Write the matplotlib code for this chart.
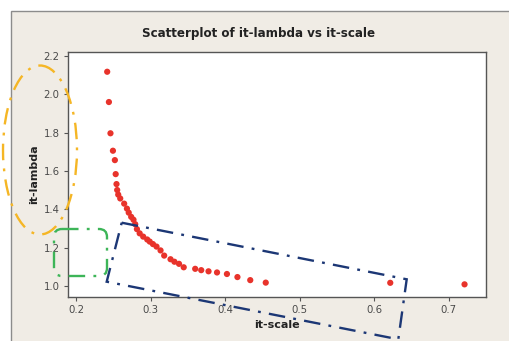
import matplotlib
matplotlib.use("Agg")
import matplotlib.pyplot as plt
from matplotlib.patches import Ellipse, FancyBboxPatch, Polygon, Rectangle
from matplotlib.transforms import Affine2D, IdentityTransform

# it-scale / it-lambda pairs
it_scale = [
    0.2416, 0.2439, 0.2460, 0.2493, 0.2519, 0.2530, 0.2541, 0.2550, 0.2564, 0.2591,
    0.2644, 0.2681, 0.2705, 0.2738, 0.2769, 0.2792, 0.2815, 0.2852, 0.2899, 0.2953,
    0.2987, 0.3030, 0.3078, 0.3132, 0.3181, 0.3266, 0.3318, 0.3380, 0.3443, 0.3597,
    0.3678, 0.3776, 0.3890, 0.4023, 0.4164, 0.4336, 0.4544, 0.6215, 0.7212,
]
it_lambda = [
    2.118, 1.960, 1.797, 1.706, 1.657, 1.584, 1.532, 1.501, 1.477, 1.457,
    1.430, 1.404, 1.383, 1.361, 1.346, 1.323, 1.297, 1.275, 1.258, 1.243,
    1.232, 1.219, 1.206, 1.186, 1.159, 1.140, 1.127, 1.116, 1.098, 1.090,
    1.083, 1.077, 1.071, 1.063, 1.047, 1.031, 1.018, 1.017, 1.009,
]
x_ticks = [0.2, 0.3, 0.4, 0.5, 0.6, 0.7]
y_ticks = [1.0, 1.2, 1.4, 1.6, 1.8, 2.0, 2.2]

W, H = 509, 341
plt.rcParams["font.family"] = "DejaVu Sans"

fig = plt.figure(figsize=(W / 100, H / 100), dpi=100)
fig.patch.set_facecolor("white")

# pixel coordinates measured from the top-left corner
px = Affine2D().scale(1, -1).translate(0, H) + IdentityTransform()

# beige panel behind the graph
fig.patches.append(Rectangle((11, 11), 520, 350, transform=px, facecolor="#F0ECE5",
                             edgecolor="#8C8C8C", lw=1.0, zorder=-1))

ax = fig.add_axes([68 / W, 1 - 297 / H, (486 - 68) / W, (297 - 52) / H], zorder=1)
ax.set_facecolor("white")
ax.scatter(it_scale, it_lambda, s=20, color="#E8332B", edgecolors="none", zorder=3)

ax.set_xlim(0.189, 0.750)
ax.set_ylim(0.943, 2.221)
ax.set_xticks(x_ticks)
ax.set_xticklabels([f"{t:.1f}" for t in x_ticks])
ax.set_yticks(y_ticks)
ax.set_yticklabels([f"{t:.1f}" for t in y_ticks])
ax.tick_params(direction="out", length=3, width=0.8, colors="#555555",
               labelsize=7.3, labelcolor="#4A4A4A", pad=3)
for sp in ax.spines.values():
    sp.set_color("#555555")
    sp.set_linewidth(1.0)

ax.set_xlabel("it-scale", fontsize=8, fontweight="bold", color="#222222", labelpad=3)
ax.set_ylabel("it-lambda", fontsize=8, fontweight="bold", color="#222222", labelpad=3)
fig.text(259 / W, 1 - 34 / H, "Scatterplot of it-lambda vs it-scale", ha="center",
         va="center", fontsize=8.6, fontweight="bold", color="#222222")

# highlight marks drawn over the graph
dashdot = (0, (7, 3.5, 1.2, 3.5))
fig.patches.append(Ellipse((40, 150), 74, 169, transform=px, fill=False,
                           edgecolor="#F5B625", lw=1.7, linestyle=dashdot, zorder=5))
fig.patches.append(FancyBboxPatch((54, 229), 53, 47, transform=px, fill=False,
                                  boxstyle="round,pad=0,rounding_size=8",
                                  edgecolor="#3DB558", lw=1.7, linestyle=dashdot, zorder=5))
fig.patches.append(Polygon([(121.7, 222.7), (406.7, 279.3), (398.3, 339.3), (106.7, 281.7)],
                           closed=True, transform=px, fill=False, edgecolor="#1C3775",
                           lw=1.7, linestyle=dashdot, zorder=5))

fig.savefig("out.png", dpi=100, facecolor="white")
